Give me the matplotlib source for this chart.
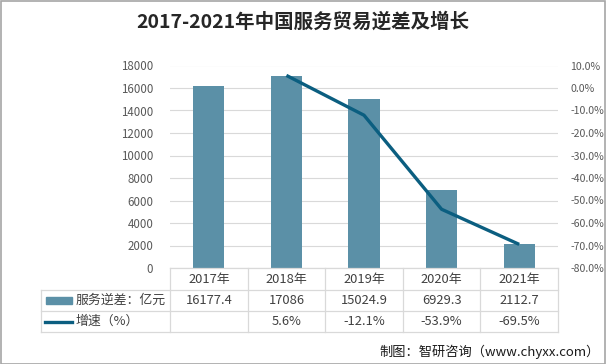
import matplotlib
matplotlib.use("Agg")
import matplotlib.pyplot as plt
import numpy as np
from matplotlib.patches import Rectangle
from matplotlib.lines import Line2D

plt.rcParams['font.family'] = ['Noto Sans CJK SC', 'DejaVu Sans']

# ===== 数据 =====
years = ["2017年", "2018年", "2019年", "2020年", "2021年"]
deficit = [16177.4, 17086, 15024.9, 6929.3, 2112.7]          # 服务逆差：亿元
deficit_labels = ["16177.4", "17086", "15024.9", "6929.3", "2112.7"]
growth_years = ["2018年", "2019年", "2020年", "2021年"]
growth = [5.6, -12.1, -53.9, -69.5]                           # 增速（%）
growth_labels = ["", "5.6%", "-12.1%", "-53.9%", "-69.5%"]

TITLE = "2017-2021年中国服务贸易逆差及增长"
SERIES1 = "服务逆差：亿元"
SERIES2 = "增速（%）"
SOURCE = "制图：智研咨询（www.chyxx.com）"

BAR_COLOR = "#5B90A7"
LINE_COLOR = "#0B5E80"
GRID_COLOR = "#D9D9D9"
TICK_COLOR = "#595959"
TABLE_LINE = "#D9D9D9"

W, H = 606, 364
fig = plt.figure(figsize=(W / 100, H / 100), dpi=100)


def fx(px):
    return px / W


def fy(py):
    return 1 - py / H


# 绘图区 (像素)
L, R, T, B = 170, 558, 65.5, 268
ax = fig.add_axes([fx(L), fy(B), fx(R) - fx(L), fy(T) - fy(B)])
x = np.arange(len(years))
ax.bar(x, deficit, width=0.4, color=BAR_COLOR, zorder=2)
ax.set_xlim(-0.5, len(years) - 0.5)
ax.set_ylim(0, 18000)
ax.set_yticks(np.arange(0, 18001, 2000))
ax.set_xticks([])
ax.grid(axis='y', color=GRID_COLOR, linewidth=0.8, zorder=0)
ax.tick_params(axis='y', length=0, pad=12, labelsize=8.3, labelcolor=TICK_COLOR)
for s in ax.spines.values():
    s.set_visible(False)

ax2 = ax.twinx()
gx = [years.index(y) for y in growth_years]
ax2.plot(gx, growth, color=LINE_COLOR, linewidth=2.4, solid_capstyle='butt', zorder=3)
ax2.set_ylim(-80, 10)
ax2.set_yticks(np.arange(-80, 11, 10))
ax2.set_yticklabels([f"{v:.1f}%" for v in np.arange(-80, 11, 10)])
ax2.tick_params(axis='y', length=0, pad=9, labelsize=7.6, labelcolor=TICK_COLOR)
for s in ax2.spines.values():
    s.set_visible(False)

# 标题
fig.text(0.5, fy(22), TITLE, ha='center', va='center', fontsize=14,
         fontweight='bold', color='#262626')

# ===== 数据表 =====
col_w = (R - L) / len(years)
rows = [B, 290, 311, 332]
tl = dict(color=TABLE_LINE, linewidth=0.9, transform=fig.transFigure)
# 横线
fig.add_artist(Line2D([fx(L), fx(R)], [fy(rows[0])] * 2, **tl))
for r in rows[1:]:
    fig.add_artist(Line2D([fx(41), fx(R)], [fy(r)] * 2, **tl))
# 竖线
fig.add_artist(Line2D([fx(41), fx(41)], [fy(rows[1]), fy(rows[3])], **tl))
for i in range(len(years) + 1):
    xp = L + i * col_w
    fig.add_artist(Line2D([fx(xp), fx(xp)], [fy(rows[0]), fy(rows[3])], **tl))

fs = 9.3
for i, yr in enumerate(years):
    cx = fx(L + (i + 0.5) * col_w)
    fig.text(cx, fy((rows[0] + rows[1]) / 2), yr, ha='center', va='center',
             fontsize=fs, color='#404040')
    fig.text(cx, fy((rows[1] + rows[2]) / 2), deficit_labels[i], ha='center',
             va='center', fontsize=fs, color='#404040')
    fig.text(cx, fy((rows[2] + rows[3]) / 2), growth_labels[i], ha='center',
             va='center', fontsize=fs, color='#404040')

# 图例样式
fig.add_artist(Rectangle((fx(46), fy(303.5)), fx(72) - fx(46), fy(297) - fy(303.5),
                         transform=fig.transFigure, color=BAR_COLOR))
fig.add_artist(Line2D([fx(45), fx(72)], [fy(321.5)] * 2, color=LINE_COLOR,
                      linewidth=2.4, transform=fig.transFigure))
fig.text(fx(76), fy((rows[1] + rows[2]) / 2), SERIES1, ha='left', va='center',
         fontsize=fs, color='#404040')
fig.text(fx(76), fy((rows[2] + rows[3]) / 2), SERIES2, ha='left', va='center',
         fontsize=fs, color='#404040')

# 来源
fig.text(fx(600), fy(352), SOURCE, ha='right', va='center', fontsize=9.5, color='#1a1a1a')

# 外框
fig.add_artist(Rectangle((0.001, 0.001), 0.997, 0.996, transform=fig.transFigure,
                         fill=False, edgecolor='#A6A6A6', linewidth=1.2))

fig.savefig("out.png", dpi=100)
